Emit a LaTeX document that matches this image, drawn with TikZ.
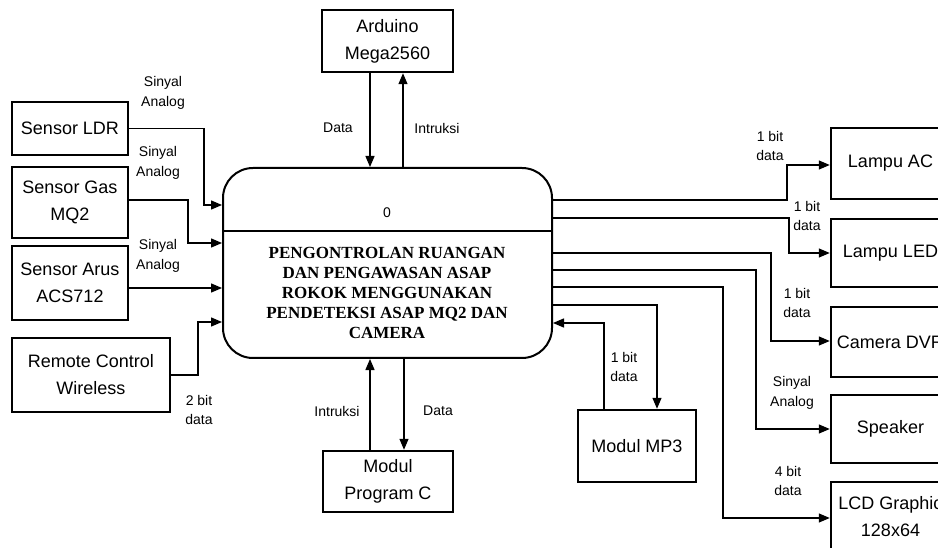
\documentclass[tikz,border=0pt]{standalone}
\usepackage{fontspec}
\setmainfont{Liberation Sans}
\newfontfamily\tms{Liberation Serif}
\usetikzlibrary{arrows.meta}
\tikzset{
  blk/.style={draw, line width=2.4pt, inner sep=0pt, align=center,
    font=\fontsize{18}{27}\selectfont},
  conn/.style={line width=1.3pt},
  arr/.style={conn, -{Triangle[length=11pt,width=9pt]}},
  lbl/.style={align=center, inner sep=0pt, font=\fontsize{14}{19.5}\selectfont},
}
\begin{document}
\begin{tikzpicture}[x=1pt,y=-1pt]
\useasboundingbox (0,0) rectangle (938,548);
\clip (0,0) rectangle (938,548);
\fill[white] (0,0) rectangle (938,548);

% boxes
\node[blk, minimum width=131pt, minimum height=62pt] (ard) at (387.5,41) {Arduino\\Mega2560};
\node[blk, minimum width=116pt, minimum height=53pt] (ldr) at (70,128.5) {Sensor LDR};
\node[blk, minimum width=116pt, minimum height=71pt] (gas) at (70,202.5) {Sensor Gas\\MQ2};
\node[blk, minimum width=116pt, minimum height=74pt] (arus) at (70,283) {Sensor Arus\\ACS712};
\node[blk, minimum width=158pt, minimum height=74pt] (remote) at (91,375) {Remote Control\\Wireless};
\node[blk, minimum width=130pt, minimum height=61pt] (prog) at (388,481.5) {Modul\\Program C};
\node[blk, minimum width=118pt, minimum height=72pt] (mp3) at (637,446) {Modul MP3};
\node[blk, minimum width=119pt, minimum height=71pt] (lac) at (890.5,163.5) {Lampu AC};
\node[blk, minimum width=119pt, minimum height=68pt] (led) at (890.5,253) {Lampu LED};
\node[blk, minimum width=119pt, minimum height=70pt] (cam) at (890.5,342) {Camera DVR};
\node[blk, minimum width=119pt, minimum height=68pt] (spk) at (890.5,429) {Speaker};
\node[blk, minimum width=119pt, minimum height=70pt] (lcd) at (890.5,517) {LCD Graphic\\128x64};

% main process
\node[draw, line width=2pt, rounded corners=30pt, minimum width=329pt, minimum height=190pt, inner sep=0pt] (main) at (387.5,263) {};
\draw[line width=2pt] (main.west |- 0,231) -- (main.east |- 0,231);
\node[inner sep=0pt, font=\fontsize{14}{16}\selectfont] (pnum) at (387,213) {0};
\node[inner sep=0pt, align=center, font=\tms\bfseries\fontsize{17}{19.8}\selectfont] (ptxt) at (387,293)
  {PENGONTROLAN RUANGAN\\DAN PENGAWASAN ASAP\\ROKOK MENGGUNAKAN\\PENDETEKSI ASAP MQ2 DAN\\CAMERA};

% left inputs
\draw[arr] (ldr.east) -| (204,205) -- (main.west |- 0,205);
\draw[arr] (gas.east |- 0,200) -| (188,243) -- (main.west |- 0,243);
\draw[arr] (arus.east |- 0,288) -- (main.west |- 0,288);
\draw[arr] (remote.east) -| (198,322) -- (main.west |- 0,322);

% top
\draw[arr] (ard.south -| 370,0) -- (main.north -| 370,0);
\draw[arr] (main.north -| 403,0) -- (ard.south -| 403,0);

% bottom
\draw[arr] (prog.north -| 370,0) -- (main.south -| 370,0);
\draw[arr] (main.south -| 404,0) -- (prog.north -| 404,0);

% right outputs
\draw[arr] (main.east |- 0,200) -| (787,165) -- (lac.west |- 0,165);
\draw[arr] (main.east |- 0,218) -| (789,253) -- (led.west);
\draw[arr] (main.east |- 0,253) -| (771,341) -- (cam.west |- 0,341);
\draw[arr] (main.east |- 0,270) -| (756,429) -- (spk.west);
\draw[arr] (main.east |- 0,287) -| (723,518) -- (lcd.west |- 0,518);
\draw[arr] (main.east |- 0,305) -| (mp3.north -| 657,0);
\draw[arr] (mp3.north -| 604,0) |- (main.east |- 0,323);

% labels
\node[lbl] (l1) at (163,93) {Sinyal\\Analog};
\node[lbl] (l2) at (158,163) {Sinyal\\Analog};
\node[lbl] (l3) at (158,256) {Sinyal\\Analog};
\node[lbl] (l4) at (199,410) {2 bit\\data};
\node[lbl] (l5) at (338,128) {Data};
\node[lbl] (l6) at (437,128) {Intruksi};
\node[lbl] (l7) at (337,411) {Intruksi};
\node[lbl] (l8) at (438,411) {Data};
\node[lbl] (l9) at (624,367) {1 bit\\data};
\node[lbl] (l10) at (770,146) {1 bit\\data};
\node[lbl] (l11) at (807,216) {1 bit\\data};
\node[lbl] (l12) at (797,303) {1 bit\\data};
\node[lbl] (l13) at (792,393) {Sinyal\\Analog};
\node[lbl] (l14) at (788,481) {4 bit\\data};
\end{tikzpicture}
\end{document}
